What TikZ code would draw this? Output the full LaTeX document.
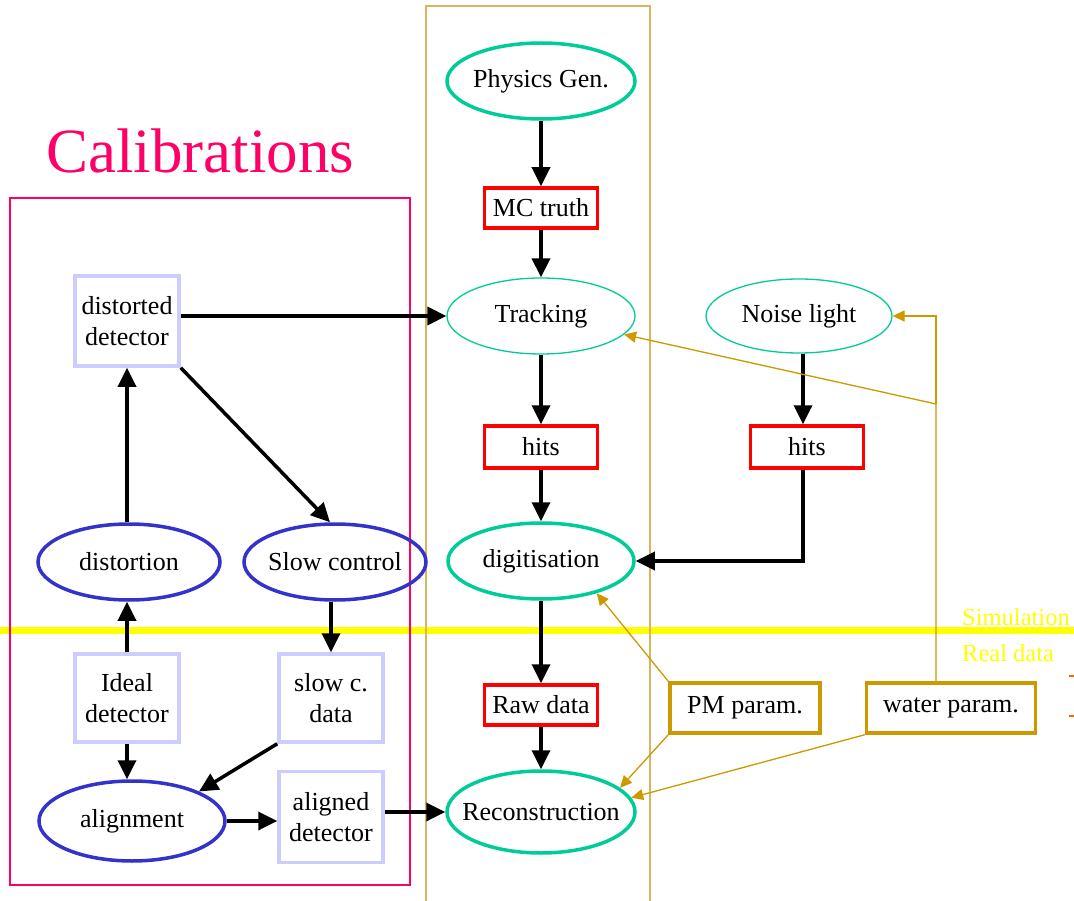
\documentclass[tikz,border=0pt]{standalone}
\usepackage{fontspec}
\setmainfont{Liberation Serif}
\usetikzlibrary{arrows.meta,shapes.geometric}
\definecolor{cgreen}{RGB}{0,204,153}
\definecolor{cred}{RGB}{255,0,0}
\definecolor{clav}{RGB}{204,204,255}
\definecolor{cblue}{RGB}{51,51,204}
\definecolor{cgold}{RGB}{204,153,0}
\definecolor{ctan}{RGB}{212,182,96}
\definecolor{cpink}{RGB}{255,0,102}
\definecolor{cyel}{RGB}{255,255,0}
\definecolor{corange}{RGB}{255,102,0}
\tikzset{
  lbl/.style={font=\fontsize{26}{31}\selectfont, align=center, inner sep=0pt},
  thickell/.style={lbl, ellipse, draw=cgreen, line width=3.5pt, inner xsep=-30pt},
  thinell/.style={lbl, ellipse, draw=cgreen, line width=1.3pt, inner xsep=-30pt},
  blueell/.style={lbl, ellipse, draw=cblue, line width=3.5pt, inner xsep=-30pt},
  redbox/.style={lbl, rectangle, draw=cred, line width=3.5pt, minimum width=113pt, minimum height=40pt},
  lavbox/.style={lbl, rectangle, draw=clav, line width=3.5pt, minimum width=104pt},
  goldbox/.style={lbl, rectangle, draw=cgold, line width=3.5pt, minimum height=50pt},
  arr/.style={line width=3.5pt, -{Triangle[length=19pt,width=18pt]}},
  goldarr/.style={draw=cgold, line width=1.3pt, -{Triangle[length=12pt,width=11pt]}, color=cgold},
  sidelbl/.style={anchor=base west, inner sep=0pt, text=cyel, font=\fontsize{24.5}{30}\selectfont}
}
\begin{document}
\begin{tikzpicture}[x=1pt,y=-1pt]
\useasboundingbox (0,0) rectangle (1074,901);
\clip (0,0) rectangle (1074,901);
\fill[white] (0,0) rectangle (1074,901);

% yellow separator
\draw[cyel, line width=7pt] (0,630) -- (1074,630);
\node[sidelbl] (simlbl) at (962,625) {Simulation};
\node[sidelbl] (reallbl) at (962,661) {Real data};
\draw[corange, line width=1.5pt] (1069,676) -- (1074,676);
\draw[corange, line width=1.5pt] (1069,716) -- (1074,716);

% frames
\draw[ctan, line width=1.8pt] (426,905) -- (426,6) -- (650,6) -- (650,905);
\draw[cpink, line width=1.8pt] (10,198) rectangle (410,885);
\node[anchor=base west, inner sep=0pt, text=cpink, font=\fontsize{63}{70}\selectfont] (calib) at (46,173) {Calibrations};

% central chain
\node[thickell, minimum width=188pt, minimum height=76pt] (phys) at (541,81) {Physics Gen.};
\node[redbox] (mctruth) at (541,208) {MC truth};
\node[thinell, minimum width=188pt, minimum height=76pt] (tracking) at (541,316) {Tracking};
\node[thinell, minimum width=186pt, minimum height=74pt] (noise) at (799,316) {Noise light};
\node[redbox, minimum height=42pt] (hitsL) at (541,447) {hits};
\node[redbox, minimum height=42pt] (hitsR) at (807,447) {hits};
\node[thickell, minimum width=186pt, minimum height=76pt] (digit) at (541,561) {digitisation};
\node[redbox] (raw) at (541,705) {Raw data};
\node[thickell, minimum width=188pt, minimum height=82pt] (reco) at (541,812) {Reconstruction};
\node[goldbox, minimum width=150pt] (pm) at (745,708) {PM param.};
\node[goldbox, minimum width=169pt] (water) at (951,708) {water param.};

% calibration side
\node[lavbox, minimum height=90pt] (distdet) at (127,321) {distorted\\detector};
\node[blueell, minimum width=182pt, minimum height=76pt] (distortion) at (129,562) {distortion};
\node[blueell, minimum width=182pt, minimum height=76pt] (slowctl) at (335,562) {Slow control};
\node[lavbox, minimum height=88pt] (ideal) at (127,698) {Ideal\\detector};
\node[lavbox, minimum height=88pt] (slowdata) at (331,698) {slow c.\\data};
\node[blueell, minimum width=186pt, minimum height=80pt] (alignment) at (132,821) {alignment};
\node[lavbox, minimum height=91pt] (aligned) at (331,817) {aligned\\detector};

% black connectors
\draw[arr] (phys) -- (mctruth);
\draw[arr] (mctruth) -- (tracking);
\draw[arr] (tracking) -- (hitsL);
\draw[arr] (hitsL) -- (digit);
\draw[arr] (digit) -- (raw);
\draw[arr] (raw) -- (reco);
\draw[arr] (noise.south -| 803,0) -- (hitsR.north -| 803,0);
\draw[arr] (hitsR.south -| 803,0) |- (digit.east);
\draw[arr] (distdet.east |- tracking.west) -- (tracking.west);
\draw[arr] (distortion.north -| distdet.south) -- (distdet.south);
\draw[arr] (distdet.south east) -- (slowctl.north -| 330,0);
\draw[arr] (ideal.north) -- (ideal.north |- distortion.south);
\draw[arr] (slowctl.south -| slowdata.north) -- (slowdata.north);
\draw[arr] (ideal.south) -- (ideal.south |- alignment.north);
\draw[arr] (slowdata.south west) -- (alignment.north east);
\draw[arr] (alignment.east) -- (aligned.west |- alignment.east);
\draw[arr] (aligned.east |- reco.west) -- (reco.west);

% gold connectors
\coordinate (wj) at (936,404);
\draw[goldarr] (water.north -| wj) -- (wj) -- (tracking);
\draw[goldarr] (wj) |- (noise.east);
\draw[goldarr] (pm.north west) -- (digit.-30);
\draw[goldarr] (pm.south west) -- (reco.17);
\draw[goldarr] (water.south west) -- (reco.9);
\end{tikzpicture}
\end{document}
